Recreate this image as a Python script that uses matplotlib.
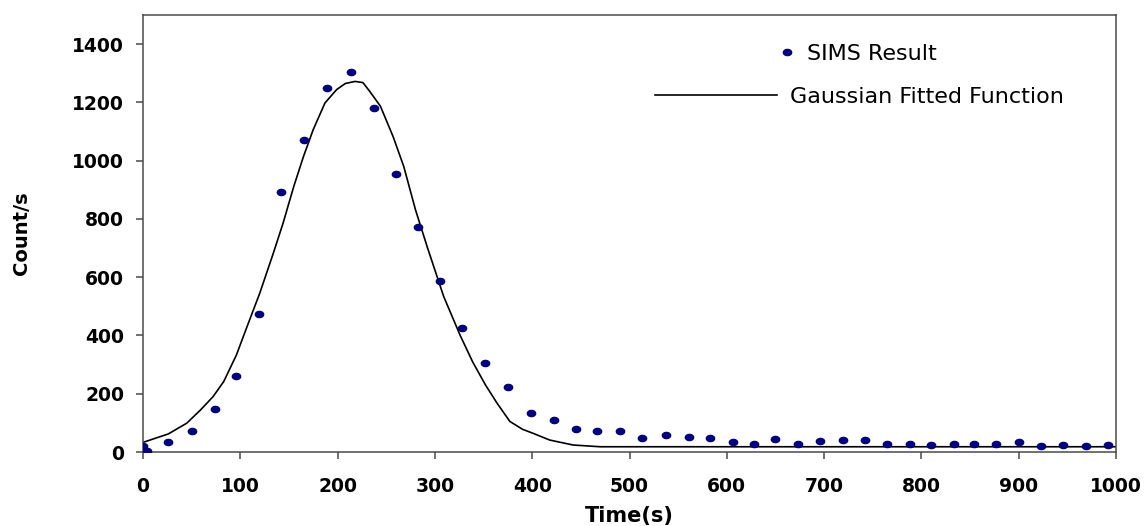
import numpy as np
import matplotlib
matplotlib.use("Agg")
import matplotlib.pyplot as plt
from matplotlib.lines import Line2D

sims_t = [0, 4, 26, 50, 74, 96, 119, 142, 165, 189, 214, 237, 260, 283, 305,
          328, 351, 375, 399, 422, 445, 467, 490, 513, 537, 561, 583, 606, 628,
          650, 673, 696, 719, 742, 765, 788, 810, 833, 854, 877, 900, 923, 946,
          969, 992]
sims_counts = [21, 5, 33, 71, 147, 261, 474, 891, 1071, 1251, 1303, 1180, 953,
               773, 588, 427, 304, 223, 133, 110, 80, 71, 71, 48, 57, 53, 48,
               34, 29, 43, 29, 38, 42, 42, 29, 29, 24, 29, 29, 29, 33, 20, 24,
               20, 24]

# Gaussian fitted curve
fit_t = [0, 26, 45, 59, 72, 83, 96, 107, 120, 134, 144, 155, 165, 175, 187,
         199, 208, 218, 226, 233, 244, 257, 268, 280, 292, 309, 326, 339, 352,
         364, 377, 390, 401, 418, 442, 470, 500, 1000]
fit_counts = [33, 62, 99, 144, 190, 242, 333, 431, 545, 683, 786, 912, 1015,
              1107, 1198, 1244, 1265, 1272, 1268, 1238, 1187, 1083, 980, 832,
              705, 534, 400, 308, 230, 167, 105, 78, 64, 41, 24, 18, 18, 18]

x_ticks = list(range(0, 1001, 100))
y_ticks = list(range(0, 1401, 200))

# slightly wide dot, like the original
th = np.linspace(0, 2 * np.pi, 40)
dot = list(zip(1.35 * np.cos(th), np.sin(th)))

fig = plt.figure(figsize=(11.45, 5.26), dpi=100)
ax = fig.add_axes([143 / 1145, 1 - 452 / 526, 973 / 1145, 437 / 526])

ax.plot(fit_t, fit_counts, color="black", lw=1.2, zorder=2)
ax.plot(sims_t, sims_counts, ls="none", marker=dot, ms=6, color="#000080",
        mec="#000080", zorder=3)

ax.set_xlim(0, 1000)
ax.set_ylim(0, 1500)
ax.set_xticks(x_ticks)
ax.set_yticks(y_ticks)

for s in ax.spines.values():
    s.set_color("#4a4a4a")
    s.set_linewidth(1.1)

ax.tick_params(axis="both", direction="out", length=5, width=1.1,
               color="#4a4a4a", labelsize=13.5)
ax.tick_params(axis="x", pad=13)
ax.tick_params(axis="y", pad=8.5)
for lab in ax.get_xticklabels() + ax.get_yticklabels():
    lab.set_fontweight("bold")

ax.set_xlabel("Time(s)", fontsize=15, fontweight="bold", labelpad=7)
ax.set_ylabel("Count/s", fontsize=14, fontweight="bold", labelpad=30)

h1 = Line2D([], [], ls="none", marker=dot, ms=6, color="#000080")
h2 = Line2D([], [], color="black", lw=1.2)
leg1 = ax.legend([h1], ["SIMS Result"], loc="center left", frameon=False,
                 bbox_to_anchor=(781 / 1145, 1 - 54 / 526),
                 bbox_transform=fig.transFigure, fontsize=16,
                 handlelength=0.5, handletextpad=0.65, borderpad=0,
                 borderaxespad=0)
ax.add_artist(leg1)
ax.legend([h2], ["Gaussian Fitted Function"], loc="center left", frameon=False,
          bbox_to_anchor=(655 / 1145, 1 - 97 / 526),
          bbox_transform=fig.transFigure, fontsize=16,
          handlelength=5.5, handletextpad=0.58, borderpad=0, borderaxespad=0)

fig.savefig("out.png", dpi=100)
